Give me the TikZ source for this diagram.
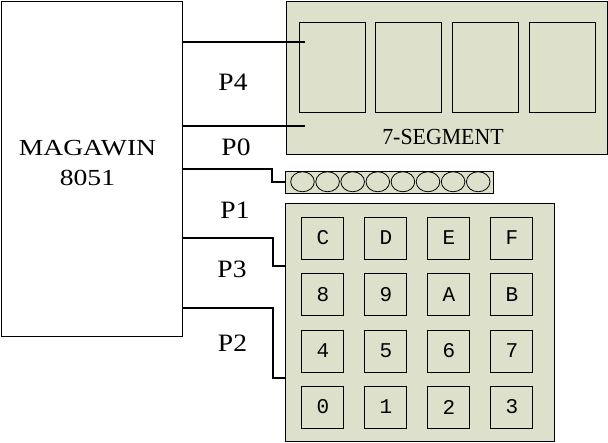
\documentclass[tikz,border=0pt]{standalone}
\usepackage{fontspec}
\setmainfont{Liberation Serif}
\newfontfamily\mcufont[FakeStretch=1.2]{Liberation Serif}
\newfontfamily\portfont[FakeStretch=1.1]{Liberation Serif}
\newfontfamily\segfont[FakeStretch=0.95]{Liberation Serif}
\newfontfamily\keyfont{Liberation Mono}
\definecolor{panel}{RGB}{221,225,204}
\usetikzlibrary{shapes.geometric}
\tikzset{
  box/.style={draw=black, line width=1pt, rectangle, inner sep=0pt, anchor=north west},
  panelbox/.style={box, fill=panel},
  keybox/.style={box, minimum width=42pt, minimum height=42pt, font=\keyfont\fontsize{21}{21}\selectfont},
  digitbox/.style={box, minimum width=66pt, minimum height=90.5pt},
  led/.style={draw=black, line width=0.8pt, ellipse, inner sep=0pt, minimum width=23.6pt, minimum height=20pt},
  wire/.style={draw=black, line width=1.8pt},
  portlbl/.style={font=\portfont\fontsize{25}{25}\selectfont, inner sep=0pt},
}
\begin{document}
\begin{tikzpicture}[x=1pt,y=-1pt]
\useasboundingbox (0,0) rectangle (608,442);
% MCU
\node[box, minimum width=181.5pt, minimum height=335pt] (mcu) at (0.5,0.5) {};
\node[font=\mcufont\fontsize{23}{30}\selectfont, align=center, inner sep=0pt] (mcutext) at (87.5,162.5) {MAGAWIN\\8051};
% 7-segment
\node[panelbox, minimum width=321pt, minimum height=153.5pt] (seg) at (285.5,0.5) {};
\foreach \i/\x in {1/298.5,2/375.3,3/452,4/529}
  \node[digitbox] (d\i) at (\x,21.5) {};
\node[font=\segfont\fontsize{23}{23}\selectfont, inner sep=0pt] (segtext) at (443,136.5) {7-SEGMENT};
% LED strip
\node[panelbox, minimum width=208pt, minimum height=21.5pt] (ledbar) at (284.5,171) {};
\foreach \i in {0,...,7}
  \node[led] (led\i) at (302.5+25.1*\i,181.75) {};
% keypad
\node[panelbox, minimum width=269pt, minimum height=238pt] (pad) at (284.5,202.5) {};
\foreach \r/\y/\labels in {0/216.5/{C,D,E,F},1/273/{8,9,A,B},2/329.5/{4,5,6,7},3/385.5/{0,1,2,3}}{
  \foreach \t [count=\c from 0] in \labels
    \node[keybox] (k\r\c) at (301.3+63*\c,\y) {\t};
}
% connector end points
\coordinate (p4a) at (305,42.3);
\coordinate (p4b) at (305,126.3);
\coordinate (p0s) at (0,169);
\coordinate (p0k) at (271.7,0);
\coordinate (p3s) at (0,238.3);
\coordinate (p3t) at (0,266);
\coordinate (p2s) at (0,307.7);
\coordinate (p2t) at (0,378.3);
\coordinate (pk) at (273.3,0);
% wires
\draw[wire] (mcu.east |- p4a) -- (p4a);
\draw[wire] (mcu.east |- p4b) -- (p4b);
\draw[wire] (mcu.east |- p0s) -- (p0k |- p0s) -- (p0k |- ledbar.west) -- (ledbar.west);
\draw[wire] (mcu.east |- p3s) -- (pk |- p3s) -- (pk |- p3t) -- (pad.west |- p3t);
\draw[wire] (mcu.east |- p2s) -- (pk |- p2s) -- (pk |- p2t) -- (pad.west |- p2t);
% port labels
\node[portlbl] (lp4) at (233,82) {P4};
\node[portlbl] (lp0) at (236,147) {P0};
\node[portlbl] (lp1) at (235,210) {P1};
\node[portlbl] (lp3) at (232,269) {P3};
\node[portlbl] (lp2) at (232.5,343.3) {P2};
\end{tikzpicture}
\end{document}
